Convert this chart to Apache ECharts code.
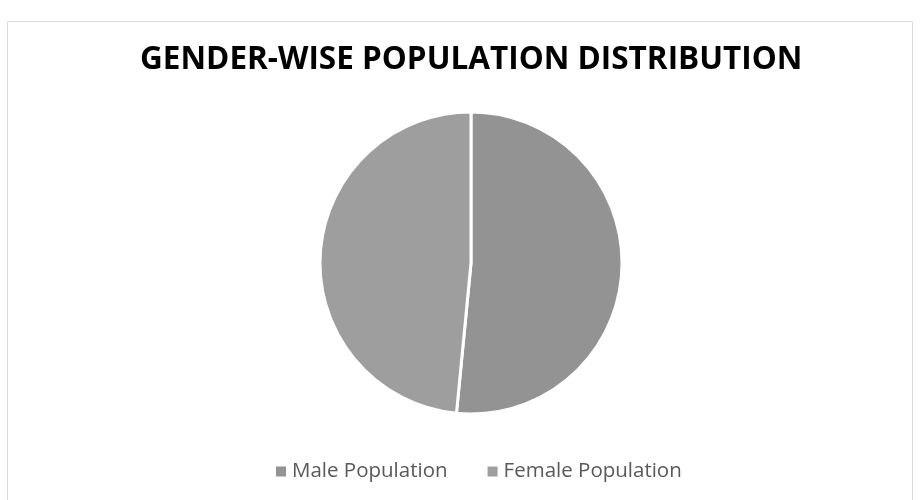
<!DOCTYPE html>
<html>
<head>
<meta charset="utf-8">
<script src="https://cdn.jsdelivr.net/npm/echarts@6/dist/echarts.min.js"></script>
<style>
  html, body { margin: 0; padding: 0; background: #ffffff; }
  #chart { width: 920px; height: 500px; }
</style>
</head>
<body>
<div id="chart"></div>
<script>
// Population by gender (millions)
const categories = ['Male Population', 'Female Population'];
const populationValues = [623.7, 586.5];
const sliceColors = ['#939393', '#9e9e9e'];

const chart = echarts.init(document.getElementById('chart'), null, { renderer: 'canvas' });

chart.setOption({
  backgroundColor: '#ffffff',
  animation: false,
  graphic: [{
    type: 'rect',
    shape: { x: 7.5, y: 21.5, width: 905, height: 490 },
    style: { fill: 'none', stroke: '#d9d9d9', lineWidth: 1 },
    silent: true
  }],
  title: {
    text: 'GENDER-WISE POPULATION DISTRIBUTION',
    left: 135,
    top: 39,
    textStyle: {
      fontFamily: '"Open Sans", sans-serif',
      fontWeight: 'bold',
      fontSize: 31.5,
      color: '#000000'
    }
  },
  legend: {
    top: 456,
    left: 269,
    itemWidth: 12,
    itemHeight: 12,
    itemGap: 38,
    icon: 'rect',
    textStyle: {
      fontFamily: '"Open Sans", sans-serif',
      fontSize: 20.5,
      color: '#595959'
    },
    data: categories
  },
  series: [{
    type: 'pie',
    center: [471, 263],
    radius: [0, 151],
    startAngle: 90,
    clockwise: true,
    label: { show: false },
    labelLine: { show: false },
    itemStyle: { borderColor: '#ffffff', borderWidth: 3 },
    emphasis: { disabled: true },
    data: categories.map((name, i) => ({
      name: name,
      value: populationValues[i],
      itemStyle: { color: sliceColors[i] }
    }))
  }]
});
</script>
</body>
</html>
